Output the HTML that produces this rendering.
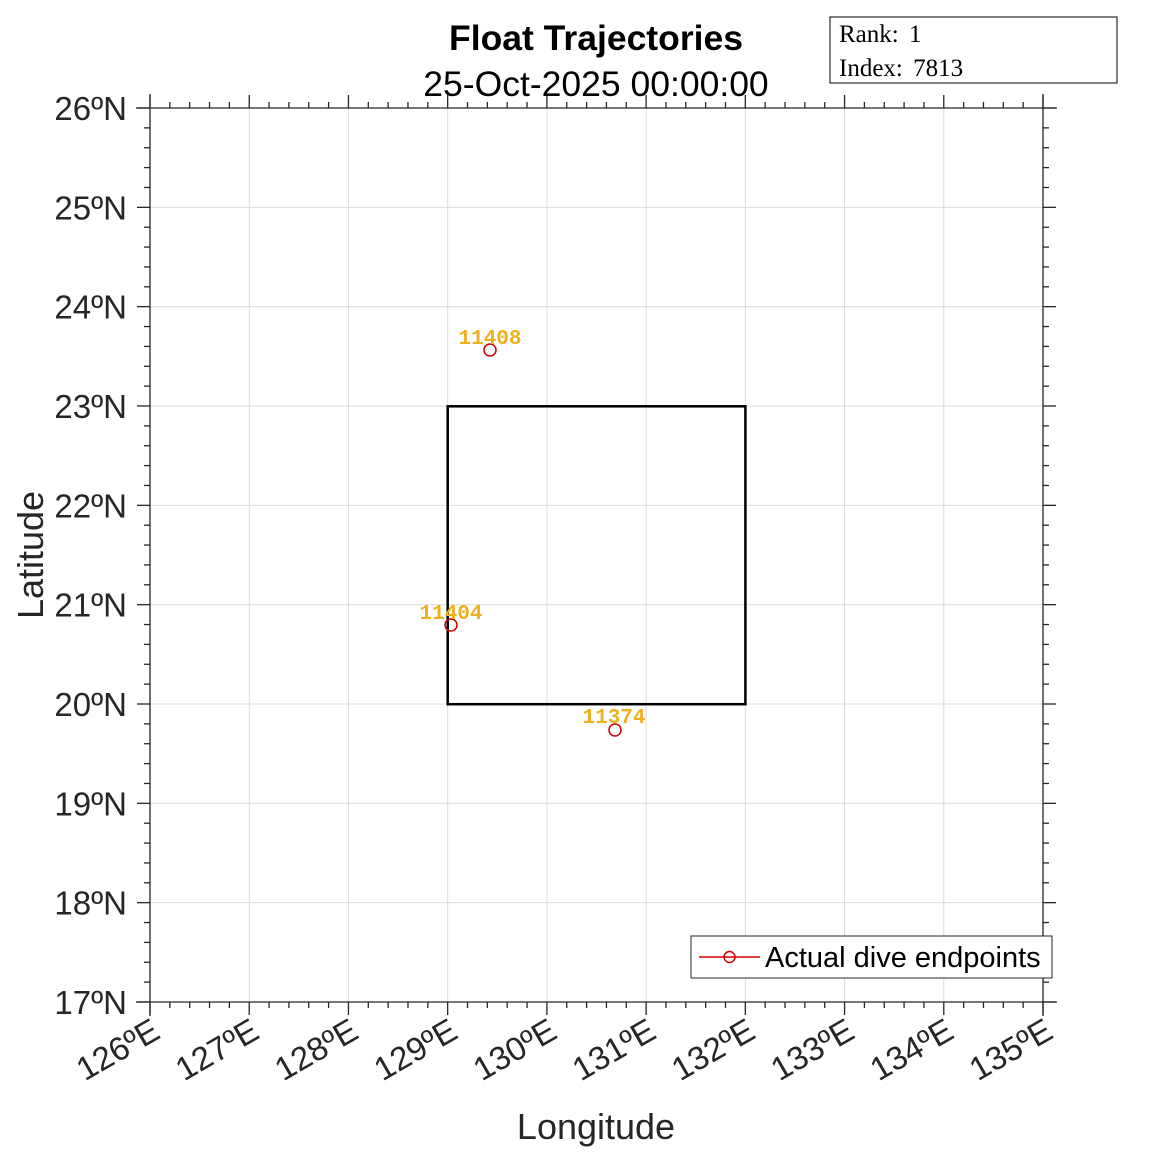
<!DOCTYPE html>
<html><head><meta charset="utf-8"><style>body{margin:0;background:#fff}svg{display:block}</style></head><body>
<svg width="1152" height="1152" xmlns="http://www.w3.org/2000/svg" font-family="Liberation Sans, sans-serif">
<rect width="1152" height="1152" fill="#fff"/>
<g id="grid" stroke="#dcdcdc" stroke-width="1">
</g>
<script>
(function(){
const ns="http://www.w3.org/2000/svg";
const svg=document.currentScript.parentNode;
const X0=150,X1=1043,Y0=1002,Y1=108;
const dx=(X1-X0)/9, dy=(Y0-Y1)/9;
const g=svg.querySelector('#grid');
function el(t,a,p){const e=document.createElementNS(ns,t);for(const k in a)e.setAttribute(k,a[k]);(p||svg).appendChild(e);return e;}
for(let i=1;i<9;i++){
 el('line',{x1:X0+i*dx,y1:Y1,x2:X0+i*dx,y2:Y0},g);
 el('line',{x1:X0,y1:Y0-i*dy,x2:X1,y2:Y0-i*dy},g);
}
const ax=el('g',{stroke:'#262626','stroke-width':1.3,fill:'none'});
el('line',{x1:X0,y1:Y1-14,x2:X0,y2:Y0+14},ax);
el('line',{x1:X1,y1:Y1-14,x2:X1,y2:Y0+14},ax);
el('line',{x1:X0-14,y1:Y1,x2:X1+14,y2:Y1},ax);
el('line',{x1:X0-14,y1:Y0,x2:X1+14,y2:Y0},ax);
for(let k=0;k<=45;k++){
 const L=(k%5==0)?13:6;
 const x=X0+k*dx/5, y=Y0-k*dy/5;
 el('line',{x1:x,y1:Y1,x2:x,y2:Y1-L},ax);
 el('line',{x1:x,y1:Y0,x2:x,y2:Y0+L},ax);
 el('line',{x1:X0,y1:y,x2:X0-L,y2:y},ax);
 el('line',{x1:X1,y1:y,x2:X1+L,y2:y},ax);
}
for(let i=0;i<=9;i++){
 const t=el('text',{x:X0-23,y:Y0-i*dy+12,'text-anchor':'end','font-size':33,fill:'#262626'});
 t.textContent=(17+i)+'\u00baN';
 const x=X0+i*dx+12, yy=Y0+35;
 const u=el('text',{x:x,y:yy,'text-anchor':'end','font-size':33,fill:'#262626',transform:'rotate(-30 '+x+' '+yy+')'});
 u.textContent=(126+i)+'\u00baE';
}
})();
</script>
<rect x="447.7" y="406.3" width="297.7" height="297.9" fill="none" stroke="#000" stroke-width="2.5"/>
<g fill="none" stroke="#d40000" stroke-width="1.5">
<circle cx="490" cy="350" r="6"/><circle cx="451" cy="625" r="6"/><circle cx="615" cy="730" r="6"/>
</g>
<g font-family="Liberation Mono, monospace" font-weight="bold" font-size="21" fill="#edb120" text-anchor="middle">
<text x="490" y="344">11408</text><text x="451" y="619">11404</text><text x="614" y="723">11374</text>
</g>
<text x="596" y="50" text-anchor="middle" font-size="35.5" font-weight="bold">Float Trajectories</text>
<text x="596" y="96" text-anchor="middle" font-size="35.5">25-Oct-2025 00:00:00</text>
<rect x="830" y="17" width="287" height="66" fill="#fff" stroke="#000" stroke-width="1"/>
<text x="839" y="42" font-family="Liberation Serif, serif" font-size="25" word-spacing="4">Rank: 1</text>
<text x="839" y="76" font-family="Liberation Serif, serif" font-size="25" word-spacing="4">Index: 7813</text>
<rect x="691" y="936" width="361" height="42" fill="#fff" stroke="#262626" stroke-width="1"/>
<line x1="699" y1="957" x2="760" y2="957" stroke="#d40000" stroke-width="1.5"/>
<circle cx="729.5" cy="957" r="5.5" fill="none" stroke="#d40000" stroke-width="1.5"/>
<text x="765" y="967" font-size="29" fill="#000">Actual dive endpoints</text>
<text x="596" y="1139" text-anchor="middle" font-size="36" fill="#262626">Longitude</text>
<text transform="translate(43 555) rotate(-90)" text-anchor="middle" font-size="36" fill="#262626">Latitude</text>
</svg>
</body></html>
